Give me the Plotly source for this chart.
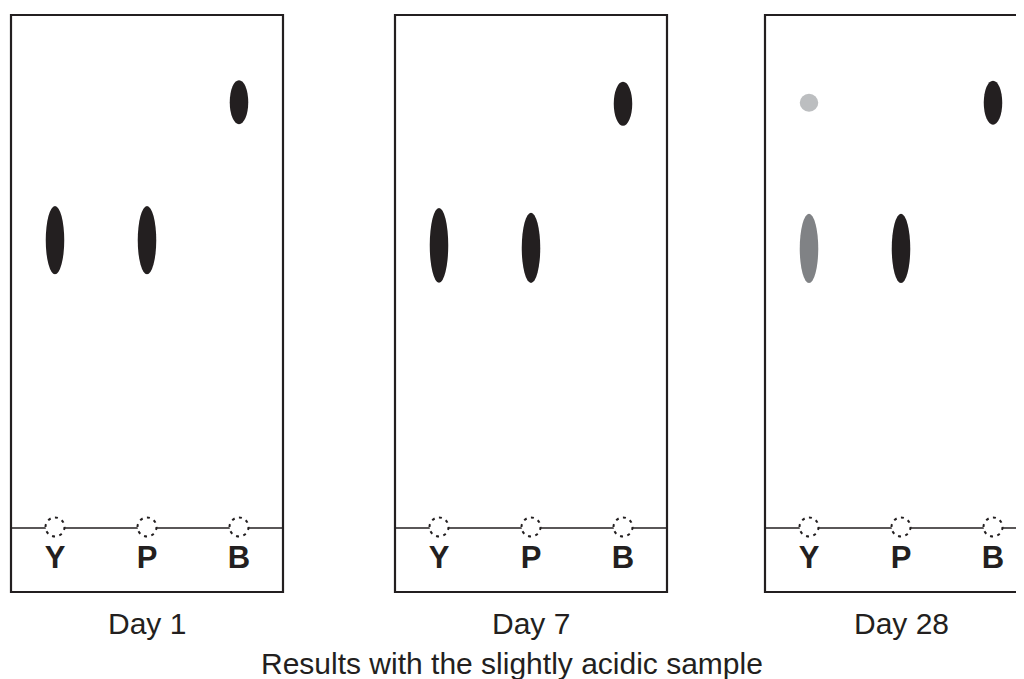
import plotly.graph_objects as go

# ---------------- data ----------------
days = ["Day 1", "Day 7", "Day 28"]
lanes = ["Y", "P", "B"]
title = "Results with the slightly acidic sample"

# developed spots: day, lane, Rf centre, Rf extent (streak length), shade
spot_day = ["Day 1", "Day 1", "Day 1",
            "Day 7", "Day 7", "Day 7",
            "Day 28", "Day 28", "Day 28", "Day 28"]
spot_lane = ["Y", "P", "B",
             "Y", "P", "B",
             "Y", "Y", "P", "B"]
spot_rf = [0.561, 0.561, 0.830,
           0.551, 0.546, 0.827,
           0.545, 0.829, 0.545, 0.829]
spot_span = [0.133, 0.133, 0.086,
             0.146, 0.137, 0.086,
             0.135, 0.035, 0.135, 0.086]
spot_shade = ["dark", "dark", "dark",
              "dark", "dark", "dark",
              "medium", "light", "dark", "dark"]

# ---------------- styling / layout constants ----------------
W, H = 1024, 679
OFF = 8.0                           # page offset of the figure (body margin)
INK = "#231f20"
SHADES = {"dark": "#231f20", "medium": "#808285", "light": "#bcbec0"}
FONT = "Liberation Sans, Arial, sans-serif"

plate_left_px = [11, 395, 765]      # left edge of each plate in page pixels
LANE_PX = 92.0                      # px per lane unit
LANE0_OFFSET = 44.0                 # px from plate edge to first lane
PLATE_W = 272.0
PAD = 6.0
BASE_PX = 528.0 - OFF               # baseline (Rf 0) in figure y
RF_PX = 513.0                       # px per Rf unit (baseline to top edge)
plate_bottom_rf = -0.1248
plate_top_rf = 1.0
spot_half_w_px = 9.25
origin_r_px = 9.5
label_rf = -0.062
day_rf = -0.186
title_page_y = 663.0

fig = go.Figure()

y_range = [(BASE_PX - H) / RF_PX, BASE_PX / RF_PX]
lane_lo = -LANE0_OFFSET / LANE_PX
lane_hi = (PLATE_W - LANE0_OFFSET) / LANE_PX

shapes = []
annotations = []
for i, day in enumerate(days):
    L = plate_left_px[i] - OFF
    d0 = max(0.0, (L - PAD) / W)
    d1 = min(1.0, (L + PLATE_W + PAD) / W)
    r0 = lane_lo - (L - d0 * W) / LANE_PX
    r1 = lane_lo + (d1 * W - L) / LANE_PX
    axname = "xaxis" if i == 0 else f"xaxis{i+1}"
    xref = "x" if i == 0 else f"x{i+1}"
    fig.update_layout(**{axname: dict(domain=[d0, d1], range=[r0, r1], visible=False,
                                      anchor="y", fixedrange=True)})

    # plate outline
    shapes.append(dict(type="rect", xref=xref, yref="y", x0=lane_lo, x1=lane_hi,
                       y0=plate_bottom_rf, y1=plate_top_rf,
                       line=dict(color=INK, width=2.2), fillcolor="white", layer="below"))
    # origin (baseline)
    shapes.append(dict(type="line", xref=xref, yref="y", x0=lane_lo, x1=lane_hi,
                       y0=0, y1=0, line=dict(color=INK, width=1.5)))
    # dotted application circles
    rx = origin_r_px / LANE_PX
    ry = origin_r_px / RF_PX
    for j, ln in enumerate(lanes):
        shapes.append(dict(type="circle", xref=xref, yref="y",
                           x0=j - rx, x1=j + rx, y0=0.002 - ry, y1=0.002 + ry,
                           fillcolor="white",
                           line=dict(color=INK, width=2, dash="3px,4.4px")))
    # spots
    hw = spot_half_w_px / LANE_PX
    for d, ln, rf, sp, sh in zip(spot_day, spot_lane, spot_rf, spot_span, spot_shade):
        if d != day:
            continue
        j = lanes.index(ln)
        shapes.append(dict(type="circle", xref=xref, yref="y",
                           x0=j - hw, x1=j + hw, y0=rf - sp / 2, y1=rf + sp / 2,
                           fillcolor=SHADES[sh], line=dict(width=0)))
    # lane labels
    fig.add_trace(go.Scatter(x=list(range(len(lanes))), y=[label_rf] * len(lanes),
                             text=lanes, mode="text", xaxis=xref, yaxis="y",
                             textposition="middle center", hoverinfo="skip",
                             textfont=dict(family=FONT, size=31, color=INK, weight="bold"),
                             showlegend=False))
    # day caption
    annotations.append(dict(x=1, y=day_rf, xref=xref, yref="y", text=day, showarrow=False,
                            font=dict(family=FONT, size=30, color=INK),
                            xanchor="center", yanchor="middle"))

annotations.append(dict(x=(512 - OFF) / W, y=(BASE_PX - (title_page_y - OFF)) / RF_PX,
                        xref="paper", yref="y",
                        text=title, showarrow=False,
                        font=dict(family=FONT, size=30, color=INK),
                        xanchor="center", yanchor="middle"))

fig.update_layout(
    width=W, height=H,
    margin=dict(l=0, r=0, t=0, b=0),
    paper_bgcolor="white", plot_bgcolor="rgba(0,0,0,0)",
    yaxis=dict(domain=[0, 1], range=y_range, visible=False, fixedrange=True),
    shapes=shapes, annotations=annotations,
)

fig.write_html("out.html", config={"displayModeBar": False})
